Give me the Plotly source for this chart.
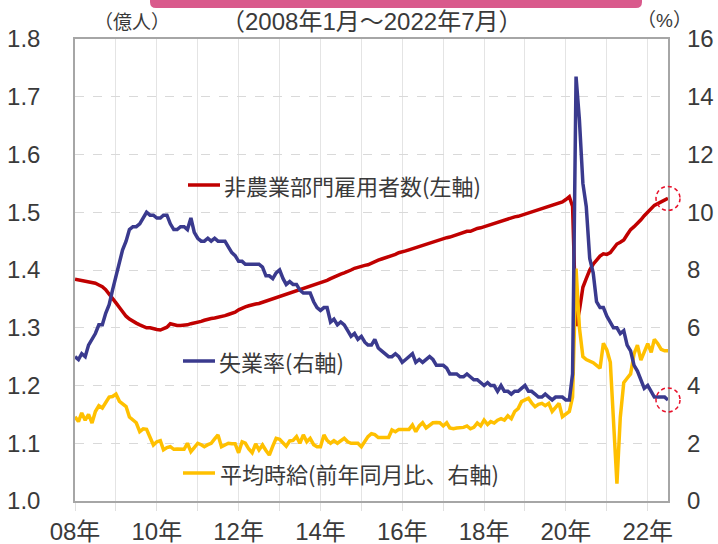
import pandas as pd
import plotly.graph_objects as go

months = pd.date_range("2008-01-01", periods=175, freq="MS")

payrolls = [  # 億人
    1.384, 1.383, 1.382, 1.381, 1.380, 1.378, 1.377, 1.374, 1.371, 1.366, 1.359, 1.352,
    1.343, 1.335, 1.327, 1.320, 1.315, 1.311, 1.308, 1.305, 1.302, 1.300, 1.300, 1.298,
    1.297, 1.296, 1.298, 1.301, 1.307, 1.305, 1.304, 1.304, 1.304, 1.305, 1.307, 1.308,
    1.309, 1.311, 1.313, 1.315, 1.316, 1.317, 1.318, 1.319, 1.321, 1.323, 1.325, 1.327,
    1.331, 1.334, 1.336, 1.338, 1.340, 1.341, 1.342, 1.344, 1.346, 1.348, 1.350, 1.352,
    1.354, 1.357, 1.358, 1.360, 1.362, 1.364, 1.366, 1.368, 1.370, 1.373, 1.375, 1.376,
    1.378, 1.380, 1.382, 1.385, 1.388, 1.390, 1.393, 1.395, 1.397, 1.400, 1.403, 1.405,
    1.406, 1.408, 1.409, 1.412, 1.415, 1.417, 1.419, 1.421, 1.422, 1.425, 1.427, 1.430,
    1.431, 1.433, 1.435, 1.437, 1.438, 1.441, 1.443, 1.445, 1.447, 1.449, 1.450, 1.452,
    1.454, 1.456, 1.457, 1.459, 1.461, 1.463, 1.465, 1.467, 1.467, 1.470, 1.472, 1.473,
    1.475, 1.477, 1.479, 1.481, 1.483, 1.485, 1.487, 1.489, 1.490, 1.492, 1.493, 1.495,
    1.497, 1.498, 1.500, 1.502, 1.504, 1.506, 1.508, 1.510, 1.512, 1.514, 1.516, 1.518,
    1.522, 1.527, 1.510, 1.303, 1.330, 1.370, 1.385, 1.400, 1.410, 1.418, 1.424, 1.428,
    1.427, 1.430, 1.437, 1.445, 1.448, 1.452, 1.461, 1.470, 1.475, 1.480, 1.487, 1.494,
    1.500, 1.505, 1.512, 1.515, 1.518, 1.521, 1.524, 1.527,
]
payrolls = payrolls[:175]

unemployment = [  # %
    5.0, 4.9, 5.1, 5.0, 5.4, 5.6, 5.8, 6.1, 6.1, 6.5, 6.8, 7.3,
    7.8, 8.3, 8.7, 9.0, 9.4, 9.5, 9.5, 9.6, 9.8, 10.0, 9.9, 9.9,
    9.8, 9.8, 9.9, 9.9, 9.6, 9.4, 9.4, 9.5, 9.5, 9.4, 9.8, 9.3,
    9.1, 9.0, 9.0, 9.1, 9.0, 9.1, 9.0, 9.0, 9.0, 8.8, 8.6, 8.5,
    8.3, 8.3, 8.2, 8.2, 8.2, 8.2, 8.2, 8.1, 7.8, 7.8, 7.7, 7.9,
    8.0, 7.7, 7.5, 7.6, 7.5, 7.5, 7.3, 7.2, 7.2, 7.2, 6.9, 6.7,
    6.6, 6.7, 6.7, 6.2, 6.3, 6.1, 6.2, 6.1, 5.9, 5.7, 5.8, 5.6,
    5.7, 5.5, 5.4, 5.4, 5.6, 5.3, 5.2, 5.1, 5.0, 5.0, 5.1, 5.0,
    4.8, 4.9, 5.0, 5.1, 4.8, 4.9, 4.8, 4.9, 5.0, 4.9, 4.7, 4.7,
    4.7, 4.6, 4.4, 4.4, 4.4, 4.3, 4.3, 4.4, 4.3, 4.2, 4.2, 4.1,
    4.0, 4.1, 4.0, 4.0, 3.8, 4.0, 3.8, 3.8, 3.7, 3.8, 3.8, 3.9,
    4.0, 3.8, 3.8, 3.7, 3.6, 3.6, 3.7, 3.6, 3.5, 3.6, 3.6, 3.6,
    3.5, 3.5, 4.4, 14.7, 13.2, 11.0, 10.2, 8.4, 7.9, 6.9, 6.7, 6.7,
    6.4, 6.2, 6.0, 6.0, 5.8, 5.9, 5.4, 5.2, 4.7, 4.5, 4.2, 3.9,
    4.0, 3.8, 3.6, 3.6, 3.6, 3.6, 3.5,
]

hourly_wage_yoy = [  # % 前年同月比
    2.92, 2.75, 3.05, 2.80, 3.00, 2.70, 3.10, 3.30, 3.22, 3.40, 3.60, 3.62,
    3.70, 3.45, 3.35, 3.27, 2.91, 2.80, 2.71, 2.40, 2.50, 2.48, 2.20, 1.94,
    2.05, 2.09, 1.77, 1.85, 1.88, 1.79, 1.80, 1.79, 1.79, 2.00, 1.71, 1.85,
    2.00, 1.95, 1.88, 1.95, 2.00, 2.15, 2.29, 1.88, 1.95, 2.00, 1.98, 1.98,
    1.67, 2.05, 2.00, 1.80, 1.67, 1.98, 1.77, 1.94, 1.75, 1.59, 1.90, 2.17,
    2.14, 2.00, 1.90, 2.08, 2.10, 2.23, 2.00, 2.29, 2.05, 2.17, 1.95, 1.88,
    1.88, 2.29, 2.10, 2.00, 2.09, 2.00, 2.10, 2.17, 2.05, 2.00, 2.00, 2.00,
    1.88, 2.05, 2.23, 2.33, 2.30, 2.20, 2.20, 2.20, 2.20, 2.46, 2.40, 2.48,
    2.48, 2.48, 2.48, 2.63, 2.40, 2.60, 2.71, 2.53, 2.62, 2.71, 2.72, 2.71,
    2.60, 2.71, 2.53, 2.50, 2.53, 2.53, 2.55, 2.60, 2.50, 2.55, 2.70, 2.60,
    2.80, 2.65, 2.75, 2.70, 2.80, 2.85, 2.80, 2.95, 2.85, 3.10, 3.20, 3.44,
    3.50, 3.56, 3.40, 3.27, 3.35, 3.38, 3.30, 3.38, 3.10, 3.25, 3.38, 2.92,
    3.00, 3.10, 3.60, 8.05, 6.00, 5.00, 4.90, 4.85, 4.79, 4.70, 4.60, 5.46,
    5.23, 4.80, 3.00, 0.60, 2.90, 4.10, 4.25, 4.40, 5.10, 5.40, 4.88, 5.20,
    5.45, 5.15, 5.60, 5.45, 5.25, 5.20, 5.20,
]

year_ticks = pd.date_range("2008-01-01", "2022-01-01", freq="YS")
year_text = ["08年", "", "10年", "", "12年", "", "14年", "", "16年", "", "18年", "", "20年", "", "22年"]
left_ticks = [1.0, 1.1, 1.2, 1.3, 1.4, 1.5, 1.6, 1.7, 1.8]
left_text = ["1.0", "1.1", "1.2", "1.3", "1.4", "1.5", "1.6", "1.7", "1.8"]
right_ticks = [0, 2, 4, 6, 8, 10, 12, 14, 16]

RED = "#c00000"
NAVY = "#3a3a8e"
YELLOW = "#ffc000"
TXT = "#3a3a3a"
NUMFONT = "Arial, Liberation Sans, Noto Sans CJK JP"
CJK = "Noto Sans CJK JP"

L, R, T, B = 75, 668, 39, 501
W, H = 718, 544


def px(x):
    return (x - L) / (R - L)


def py(y):
    return (B - y) / (B - T)


fig = go.Figure()
fig.add_trace(go.Scatter(x=months, y=payrolls, mode="lines", line=dict(color=RED, width=3.5),
                         yaxis="y", showlegend=False, hoverinfo="skip"))
fig.add_trace(go.Scatter(x=months, y=hourly_wage_yoy, mode="lines", line=dict(color=YELLOW, width=3.5),
                         yaxis="y2", showlegend=False, hoverinfo="skip"))
fig.add_trace(go.Scatter(x=months, y=unemployment, mode="lines", line=dict(color=NAVY, width=3.5),
                         yaxis="y2", showlegend=False, hoverinfo="skip"))

fig.update_layout(
    width=W, height=H,
    margin=dict(l=L, r=W - R, t=T, b=H - B, pad=0, autoexpand=False),
    paper_bgcolor="white", plot_bgcolor="white",
    xaxis=dict(
        type="date", range=[months[0], months[-1]], automargin=False,
        tickvals=list(year_ticks), ticktext=year_text,
        showgrid=True, gridcolor="#e4e4e4", gridwidth=1,
        ticks="outside", ticklen=8, tickcolor="#e0e0e0",
        showline=True, linecolor="#a6a6a6", linewidth=1.5, mirror=True,
        tickfont=dict(family=NUMFONT, size=24, color=TXT), ticklabelstandoff=0,
        zeroline=False,
    ),
    yaxis=dict(
        range=[1.0, 1.8], tickvals=left_ticks, ticktext=left_text, automargin=False,
        showgrid=True, gridcolor="#d9d9d9", gridwidth=1, griddash="dash",
        ticks="", showline=True, linecolor="#a6a6a6", linewidth=1.5, mirror=True,
        tickfont=dict(family=NUMFONT, size=24, color=TXT), ticklabelstandoff=28,
        zeroline=False,
    ),
    yaxis2=dict(
        range=[0, 16], tickvals=right_ticks, overlaying="y", side="right", automargin=False,
        showgrid=False, ticks="", showline=False, zeroline=False,
        tickfont=dict(family=NUMFONT, size=24, color=TXT), ticklabelstandoff=18,
    ),
)

shapes = []
# pink banner at top (rounded bottom corners)
bx0, bx1, by0, by1, r = px(150), px(642), py(0), py(8), 6
rx = r / (R - L)
ry = r / (B - T)
shapes.append(dict(
    type="path", xref="paper", yref="paper",
    path=(f"M {bx0},{by0} L {bx1},{by0} L {bx1},{by1 + ry} Q {bx1},{by1} {bx1 - rx},{by1} "
          f"L {bx0 + rx},{by1} Q {bx0},{by1} {bx0},{by1 + ry} Z"),
    fillcolor="#d95a8c", line=dict(width=0), layer="above"))

# legend line samples
for (x0, x1, y, c) in [(188, 220, 185, RED), (183, 215, 361, NAVY), (183, 215, 473, YELLOW)]:
    shapes.append(dict(type="line", xref="paper", yref="paper",
                       x0=px(x0), x1=px(x1), y0=py(y), y1=py(y),
                       line=dict(color=c, width=3.5)))

# dashed circles marking latest values (paper coords so they are not clipped)
y_left_frac = (payrolls[-1] - 1.0) / (1.8 - 1.0)
y_right_frac = (unemployment[-1] - 0) / (16 - 0)
for yf in (y_left_frac, y_right_frac):
    shapes.append(dict(type="circle", xref="paper", yref="paper", xsizemode="pixel", ysizemode="pixel",
                       xanchor=1.0, yanchor=yf, x0=-12, x1=12, y0=-12, y1=12, layer="above",
                       line=dict(color="#e8102a", width=1.5, dash="4px,3px")))
fig.update_layout(shapes=shapes)

ann = []
ann.append(dict(text="非農業部門雇用者数(左軸)", x=px(222), y=py(185), xref="paper", yref="paper",
                xanchor="left", yanchor="middle", showarrow=False,
                font=dict(family=CJK, size=22, color=TXT)))
ann.append(dict(text="失業率(右軸)", x=px(217), y=py(361), xref="paper", yref="paper",
                xanchor="left", yanchor="middle", showarrow=False,
                font=dict(family=CJK, size=22, color=TXT)))
ann.append(dict(text="平均時給(前年同月比、右軸)", x=px(218), y=py(473), xref="paper", yref="paper",
                xanchor="left", yanchor="middle", showarrow=False,
                font=dict(family=CJK, size=22, color=TXT)))
ann.append(dict(text="（2008年1月～2022年7月）", x=px(371), y=py(22), xref="paper", yref="paper",
                xanchor="center", yanchor="middle", showarrow=False,
                font=dict(family=NUMFONT, size=24, color=TXT)))
ann.append(dict(text="（億人）", x=px(92), y=py(20), xref="paper", yref="paper",
                xanchor="left", yanchor="middle", showarrow=False,
                font=dict(family=CJK, size=19, color=TXT)))
ann.append(dict(text="（%）", x=px(694), y=py(20), xref="paper", yref="paper",
                xanchor="right", yanchor="middle", showarrow=False,
                font=dict(family=NUMFONT, size=19, color=TXT)))
fig.update_layout(annotations=ann)

fig.write_html("out.html", config={"displayModeBar": False},
               post_script="document.body.style.margin='0';document.body.style.overflow='hidden';")
